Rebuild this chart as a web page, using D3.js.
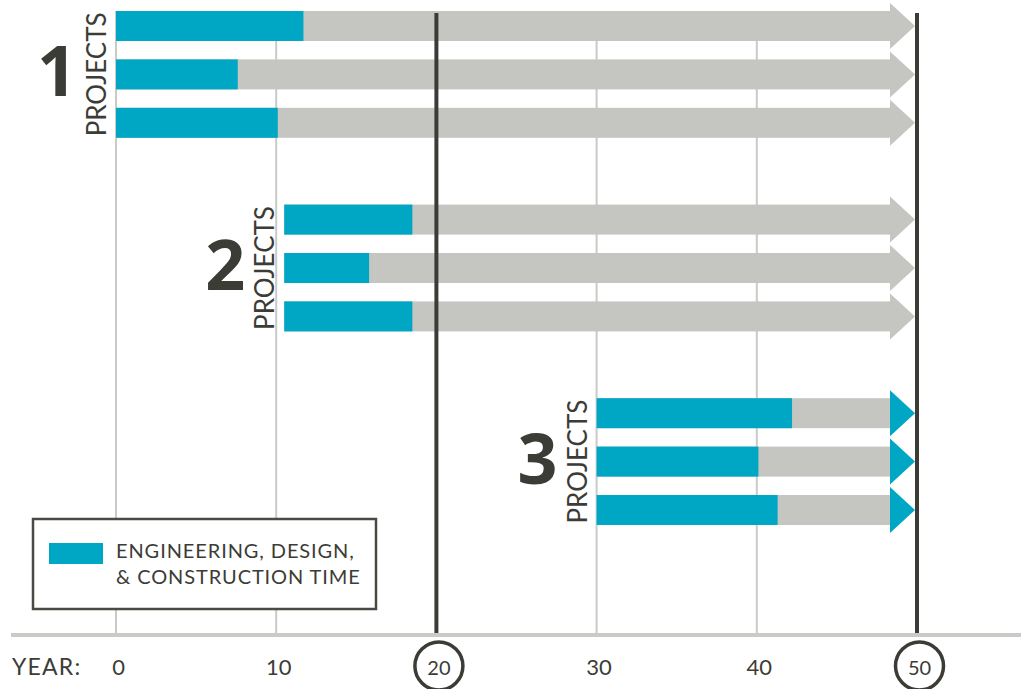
<!DOCTYPE html>
<html><head><meta charset="utf-8">
<script src="https://cdn.jsdelivr.net/npm/d3@7"></script>
<style>
html,body{margin:0;padding:0;background:#fff;}
svg{display:block;font-family:Lato, "Noto Sans", sans-serif;}
</style></head>
<body><svg id="c" width="1021" height="689"></svg>
<script>
// ---- data ----
const groupLabels = ["1", "2", "3"];
const groupWord = "PROJECTS";
const projectGroup = [1, 1, 1, 2, 2, 2, 3, 3, 3];
const projectStart = [0, 0, 0, 10.5, 10.5, 10.5, 30, 30, 30];
const engineeringEnd = [11.7, 7.6, 10.1, 18.5, 15.8, 18.5, 42.2, 40.1, 41.3];
const serviceEnd = [50, 50, 50, 50, 50, 50, 50, 50, 50];
const yearTicks = [0, 10, 20, 30, 40, 50];
const markedYears = [20, 50];
const axisTitle = "YEAR:";
const legendLines = ["ENGINEERING, DESIGN,", "& CONSTRUCTION TIME"];

// ---- styles ----
const BLUE = "#00a7c5", GREY = "#c5c6c2", DARK = "#3c3c37", GRID = "#c9cbc7";

const svg = d3.select("#c");
const x = d3.scaleLinear().domain([0, 50]).range([116, 917]);
const row = d3.scaleLinear().domain([0, 10]).range([11, 495]);
const barH = 30;
const axisY = 635;

const projects = projectGroup.map((g, i) => {
  const idx = i - projectGroup.indexOf(g);
  return {g, r: (g - 1) * 4 + idx, s: projectStart[i], e: engineeringEnd[i], end: serviceEnd[i]};
});

// gridlines
svg.append("g").selectAll("line")
  .data(yearTicks.filter(t => !markedYears.includes(t)))
  .join("line")
  .attr("x1", d => x(d)).attr("x2", d => x(d))
  .attr("y1", 11).attr("y2", axisY)
  .attr("stroke", GRID).attr("stroke-width", 2);

// bars
const bars = svg.append("g");
projects.forEach(p => {
  const y0 = row(p.r), cy = y0 + barH / 2;
  const headBase = x(p.end) - 27, tip = x(p.end) - 2;
  bars.append("rect").attr("x", x(p.s)).attr("y", y0)
    .attr("width", headBase - x(p.s)).attr("height", barH).attr("fill", GREY);
  bars.append("path")
    .attr("d", `M${headBase},${cy - 23}L${tip},${cy}L${headBase},${cy + 23}Z`)
    .attr("fill", p.g === 3 ? BLUE : GREY);
  bars.append("rect").attr("x", x(p.s)).attr("y", y0)
    .attr("width", x(p.e) - x(p.s)).attr("height", barH).attr("fill", BLUE);
});

// marked year lines
svg.append("g").selectAll("line").data(markedYears).join("line")
  .attr("x1", d => x(d)).attr("x2", d => x(d))
  .attr("y1", 13).attr("y2", axisY)
  .attr("stroke", DARK).attr("stroke-width", 4);

// group labels
groupLabels.forEach((lab, gi) => {
  const g = gi + 1;
  const ps = projects.filter(p => p.g === g);
  const top = row(ps[0].r), bottom = row(ps[ps.length - 1].r) + barH;
  const cy = (top + bottom) / 2;
  const sx = x(ps[0].s);
  svg.append("text")
    .attr("transform", `translate(${sx - 10},${cy}) rotate(-90)`)
    .attr("text-anchor", "middle")
    .attr("font-size", 26).attr("fill", DARK)
    .text(groupWord);
  svg.append("text")
    .attr("x", sx - 59).attr("y", cy + 22)
    .attr("text-anchor", "middle")
    .attr("font-family", "'Noto Sans', sans-serif")
    .attr("font-size", 70).attr("font-weight", 700).attr("fill", DARK)
    .text(lab);
});

// axis line
svg.append("line").attr("x1", 11).attr("x2", 1021)
  .attr("y1", axisY).attr("y2", axisY)
  .attr("stroke", GRID).attr("stroke-width", 4);

// axis labels
const ax = svg.append("g").attr("transform", `translate(2,675)`)
  .call(d3.axisBottom(x).tickValues(yearTicks).tickSize(0).tickPadding(0));
ax.select(".domain").remove();
ax.selectAll("text")
  .attr("y", 0).attr("dy", 0)
  .attr("font-family", "Lato, 'Noto Sans', sans-serif")
  .attr("font-size", d => markedYears.includes(d) ? 20 : 22)
  .attr("fill", DARK);
ax.selectAll(".tick").filter(d => markedYears.includes(d))
  .append("circle").attr("cx", 0).attr("cy", -9).attr("r", 24)
  .attr("fill", "none").attr("stroke", DARK).attr("stroke-width", 3.5);

svg.append("text").attr("x", 12).attr("y", 675)
  .attr("font-size", 23).attr("letter-spacing", 1.2).attr("fill", DARK).text(axisTitle);

// legend
const lg = svg.append("g");
lg.append("rect").attr("x", 33).attr("y", 519).attr("width", 343).attr("height", 90)
  .attr("fill", "#fff").attr("stroke", "#4a4a45").attr("stroke-width", 2.5);
lg.append("rect").attr("x", 49).attr("y", 543).attr("width", 54).attr("height", 21).attr("fill", BLUE);
lg.selectAll("text.l").data(legendLines).join("text")
  .attr("x", 116).attr("y", (d, i) => 558 + i * 26)
  .attr("font-size", 20).attr("letter-spacing", 0.9).attr("fill", DARK).text(d => d);
</script></body></html>
